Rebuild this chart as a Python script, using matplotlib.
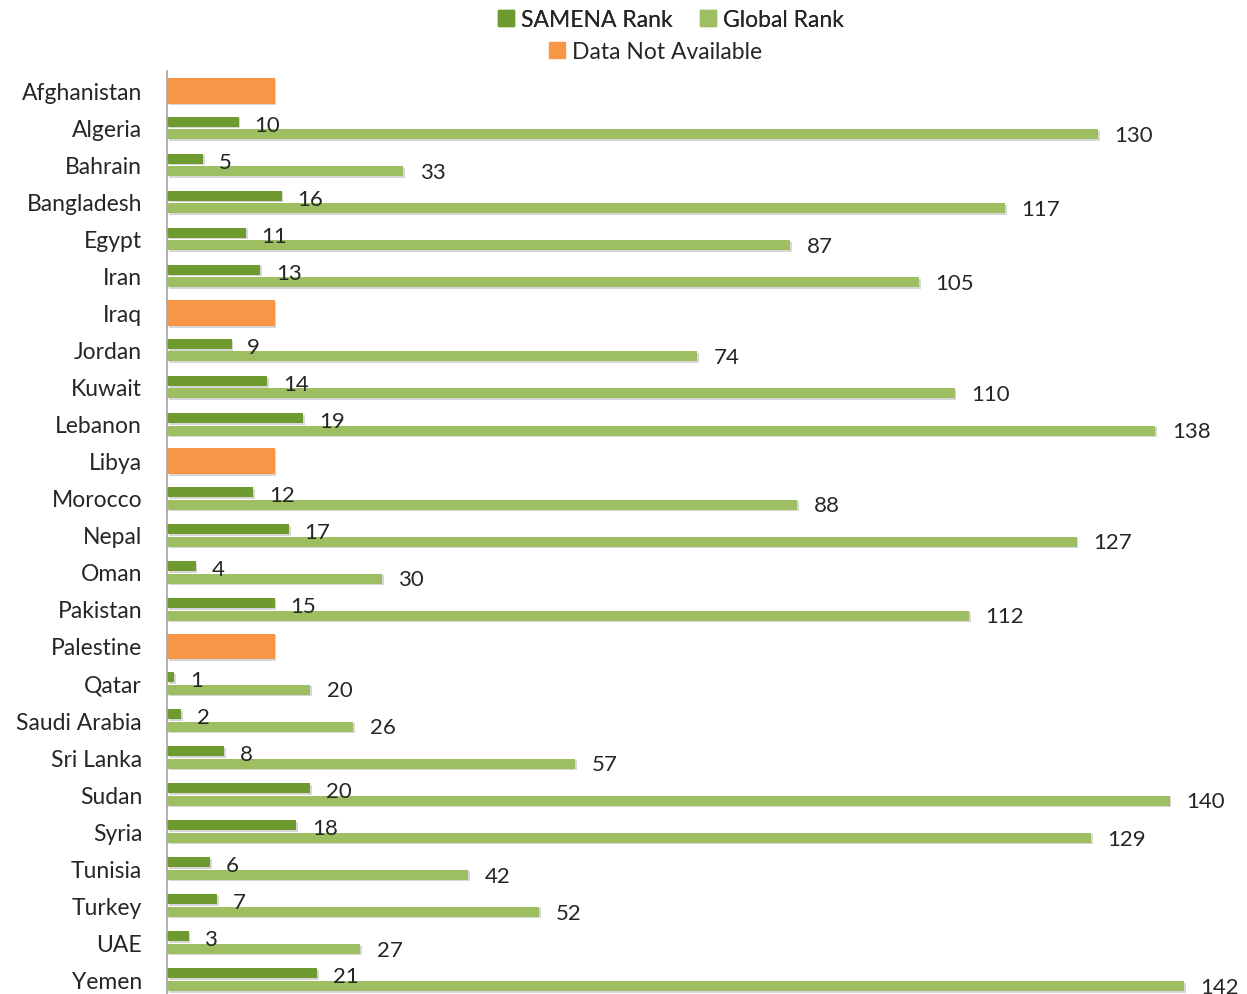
import numpy as np
import matplotlib.pyplot as plt
from matplotlib.patches import Patch
import matplotlib.patheffects as pe

countries = ["Afghanistan", "Algeria", "Bahrain", "Bangladesh", "Egypt", "Iran", "Iraq",
             "Jordan", "Kuwait", "Lebanon", "Libya", "Morocco", "Nepal", "Oman", "Pakistan",
             "Palestine", "Qatar", "Saudi Arabia", "Sri Lanka", "Sudan", "Syria", "Tunisia",
             "Turkey", "UAE", "Yemen"]
samena_rank = [None, 10, 5, 16, 11, 13, None, 9, 14, 19, None, 12, 17, 4, 15,
               None, 1, 2, 8, 20, 18, 6, 7, 3, 21]
global_rank = [None, 130, 33, 117, 87, 105, None, 74, 110, 138, None, 88, 127, 30, 112,
               None, 20, 26, 57, 140, 129, 42, 52, 27, 142]
na_value = 15  # length of the orange placeholder bar

c_samena = "#6f9a2f"
c_global = "#9dbf62"
c_na = "#f79646"
txt = "#262626"

plt.rcParams["font.family"] = ["Lato", "DejaVu Sans"]

fig = plt.figure(figsize=(12.47, 9.95), dpi=100)
ax = fig.add_axes([0.134, 0.0, 0.866, 0.928])

y = np.arange(len(countries))
h = 0.27
off_s = -0.16
off_g = 0.18
shadow = [pe.SimplePatchShadow(offset=(1.2, -1.2), shadow_rgbFace="#b0b0b0", alpha=0.5), pe.Normal()]

for i, (s, g) in enumerate(zip(samena_rank, global_rank)):
    if s is None:
        for off in (off_s, off_g):
            b = ax.barh(y[i] + off, na_value, height=h + 0.08, color=c_na)
            b[0].set_path_effects(shadow)
        continue
    b1 = ax.barh(y[i] + off_s, s, height=h, color=c_samena)
    b2 = ax.barh(y[i] + off_g, g, height=h, color=c_global)
    b1[0].set_path_effects(shadow)
    b2[0].set_path_effects(shadow)
    ax.text(s + 2.2, y[i] + off_s + 0.08, str(s), va="center", ha="left", fontsize=16, color=txt)
    ax.text(g + 2.3, y[i] + off_g + 0.02, str(g), va="center", ha="left", fontsize=16, color=txt)

ax.set_xlim(0, 150.8)
ax.set_ylim(24.4, -0.54)
ax.set_yticks(y)
ax.set_yticklabels(countries, fontsize=16.5, color=txt)
ax.tick_params(axis="y", length=0, pad=18)
ax.set_xticks([])
for side in ["top", "right", "bottom"]:
    ax.spines[side].set_visible(False)
ax.spines["left"].set_color("#a6a6a6")
ax.spines["left"].set_linewidth(1.2)

leg1 = fig.legend(handles=[Patch(color=c_samena, label="SAMENA Rank"),
                           Patch(color=c_global, label="Global Rank")],
                  loc="center", bbox_to_anchor=(0.538, 0.979), ncol=2, frameon=False,
                  fontsize=16.5, handlelength=0.7, handleheight=0.7, handletextpad=0.3,
                  columnspacing=1.2, labelcolor=txt)
leg2 = fig.legend(handles=[Patch(color=c_na, label="Data Not Available")],
                  loc="center", bbox_to_anchor=(0.526, 0.947), frameon=False,
                  fontsize=16.5, handlelength=0.7, handleheight=0.7, handletextpad=0.3,
                  labelcolor=txt)
fig.add_artist(leg1)

fig.savefig("out.png", dpi=100, facecolor="white")
